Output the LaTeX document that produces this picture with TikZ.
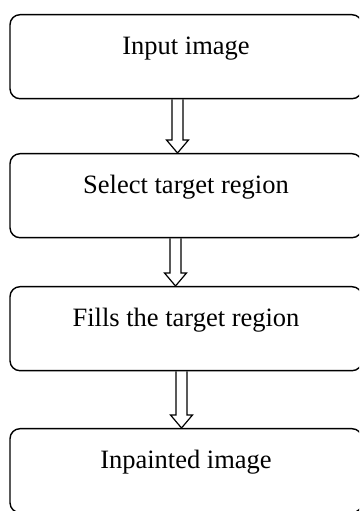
\documentclass[tikz,border=0pt]{standalone}
\usepackage{fontspec}
\setmainfont{Liberation Serif}
\usetikzlibrary{calc}
\tikzset{
  stepbox/.style={draw, line width=1.4pt, rounded corners=10pt, anchor=north,
    minimum width=352pt, inner xsep=0pt, inner ysep=0pt,
    text height=39.5pt, text depth=44.5pt,
    font=\fontsize{26.5}{30}\selectfont},
  flowline/.style={draw, line width=1.2pt, line join=miter}
}
\newcommand\flowarrow[3]{%
  \draw[flowline] ($(#1.south)+(#3-5.5,0)$) -- ($(#2.north)+(#3-5.5,13)$)
    -- ($(#2.north)+(#3-11,13)$) -- ($(#2.north)+(#3,0)$)
    -- ($(#2.north)+(#3+11,13)$) -- ($(#2.north)+(#3+5.5,13)$)
    -- ($(#1.south)+(#3+5.5,0)$);}
\begin{document}
\begin{tikzpicture}[x=1pt,y=1pt]
\useasboundingbox (0,0) rectangle (359,511);
\clip (0,0) rectangle (359,511);
\node[stepbox] (n1) at (186,497) {Input image};
\node[stepbox] (n2) at (186,358) {Select target region};
\node[stepbox] (n3) at (186,225) {Fills the target region};
\node[stepbox] (n4) at (186,83) {Inpainted image};
\flowarrow{n1}{n2}{-8.5}
\flowarrow{n2}{n3}{-10.5}
\flowarrow{n3}{n4}{-4.5}
\end{tikzpicture}
\end{document}
